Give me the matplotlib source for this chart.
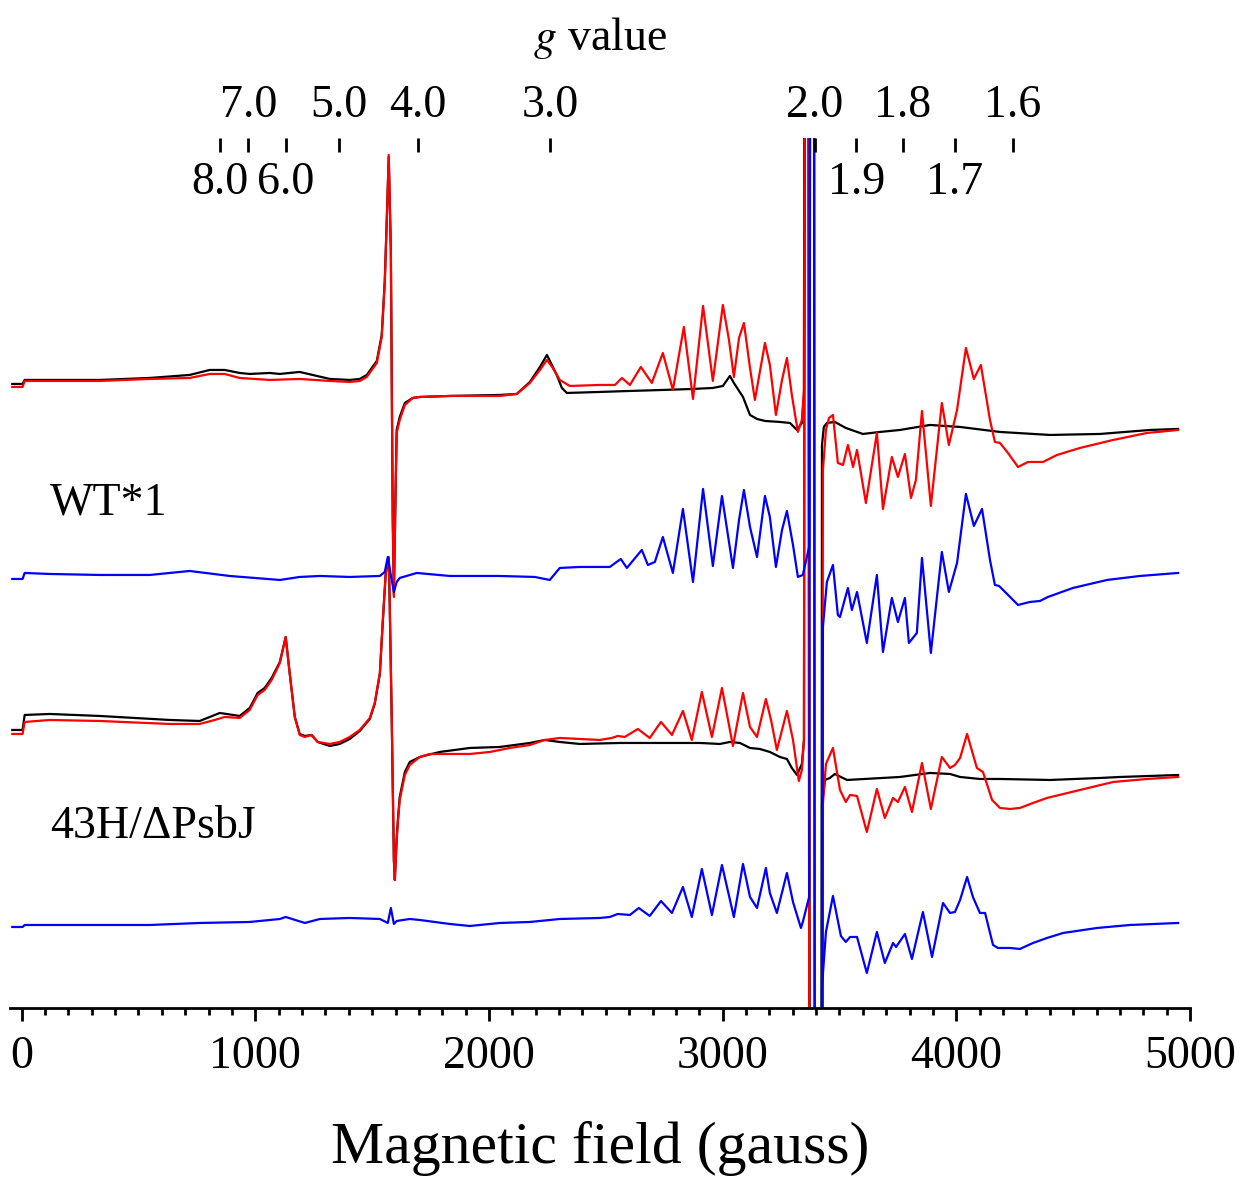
import numpy as np
import matplotlib.pyplot as plt
from matplotlib.ticker import MultipleLocator

plt.rcParams['font.family'] = ['Liberation Serif', 'DejaVu Serif']
plt.rcParams['mathtext.fontset'] = 'stix'

# microwave frequency, used for the g value scale on top: B(G) = 714.4773*f(GHz)/g
freq_ghz = 9.50
g_const = 714.4773 * freq_ghz
g_upper = [7.0, 5.0, 4.0, 3.0, 2.0, 1.8, 1.6]
g_lower = [8.0, 6.0, 1.9, 1.7]

sample_names = ["WT*1", "43H/\u0394PsbJ"]

# ---- WT*1 : black (dark) and red (illuminated) spectra, field in gauss, signal in a.u.
wt_black_field = [-40, 4, 13, 120, 334, 548, 719, 805, 869, 933, 976, 1062, 1104, 1190, 1319, 1404, 1447,
                  1477, 1520, 1541, 1554, 1563, 1571, 1580, 1584, 1588, 1593, 1601, 1605, 1618, 1640,
                  1674, 1704, 1832, 2046, 2119, 2175, 2218, 2248, 2290, 2312, 2333, 2474, 2603, 2744, 2873,
                  2958, 3001, 3031, 3048, 3087, 3117, 3147, 3181, 3245, 3288, 3318, 3339, 3348, 3361, 3378,
                  3416, 3425, 3433, 3446, 3480, 3527, 3600, 3673, 3759, 3887, 4016, 4187, 4401, 4615, 4829, 4949]
wt_black = [1, 1, 5, 5, 5, 7, 10, 15, 15, 12, 11, 12, 11, 13, 6, 5, 6,
            10, 24, 50, 104, 168, 228, 135, 2, -130, -210, -95, -45, -32, -18,
            -13, -12, -11, -10, -9, 3, 18, 30, 10, -3, -8, -7, -6, -5, -4,
            -3, -1, 9, 2, -12, -30, -34, -36, -37, -38, -45, -38, -10, 3000, -3000,
            -3000, -60, -42, -38, -37, -43, -49, -47, -45, -40, -42, -47, -50, -49, -45, -44]

wt_red_field = [-40, 4, 13, 120, 334, 548, 719, 805, 869, 933, 1062, 1190, 1319, 1404, 1447, 1477, 1520,
                1541, 1554, 1563, 1571, 1580, 1584, 1588, 1593, 1601, 1605, 1618, 1640, 1674, 1704,
                1832, 2046, 2119, 2175, 2218, 2248, 2273, 2303, 2346, 2474, 2539, 2569, 2603, 2650, 2697,
                2744, 2787, 2834, 2873, 2916, 2958, 3001, 3027, 3048, 3070, 3091, 3117, 3138, 3181, 3202,
                3228, 3254, 3275, 3296, 3322, 3339, 3348, 3361, 3378, 3416, 3429, 3442, 3455, 3472, 3493,
                3515, 3536, 3558, 3575, 3613, 3660, 3686, 3724, 3750, 3780, 3806, 3827, 3853, 3891, 3938,
                3968, 4003, 4041, 4075, 4105, 4144, 4165, 4187, 4221, 4264, 4307, 4371, 4431, 4529, 4671,
                4816, 4949]
wt_red = [-2, -2, 4, 4, 4, 6, 7, 11, 11, 7, 5, 6, 4, 3, 4, 8, 22,
          48, 102, 168, 230, 135, 2, -132, -212, -98, -48, -35, -20, -13, -12,
          -11, -11, -9, 2, 15, 25, 17, 5, -1, 0, 0, 7, 0, 18, 2,
          32, -5, 58, -14, 79, 4, 80, 45, 8, 47, 62, 17, -15, 42, 20,
          -30, 5, 27, -10, -47, -35, -5, 3000, -3000, -3000, -85, -45, -33, -30, -78,
          -80, -60, -82, -65, -118, -48, -124, -72, -92, -69, -113, -95, -26, -121, -18,
          -60, -25, 37, 6, 20, -35, -57, -58, -68, -82, -77, -77, -70, -63, -55,
          -48, -45]

wt_blue_field = [-40, 4, 13, 120, 334, 548, 719, 890, 1105, 1190, 1276, 1404, 1533, 1554, 1567, 1580, 1593,
                 1605, 1618, 1691, 1832, 2046, 2196, 2260, 2303, 2389, 2517, 2564, 2590, 2654, 2680, 2710,
                 2744, 2787, 2830, 2873, 2916, 2958, 2997, 3044, 3070, 3091, 3117, 3147, 3181, 3202, 3228,
                 3254, 3275, 3301, 3322, 3343, 3370, 3386, 3400, 3412, 3429, 3446, 3472, 3493, 3502, 3536,
                 3553, 3575, 3617, 3660, 3686, 3724, 3750, 3780, 3797, 3831, 3853, 3891, 3938, 3968, 4003,
                 4041, 4075, 4110, 4144, 4165, 4183, 4230, 4264, 4315, 4358, 4392, 4499, 4645, 4786, 4949]
wt_blue = [-2, -2, 4, 3, 2, 2, 6, 1, -3, 0, 1, 0, 1, 5, 20, 2, -15,
           -5, -1, 4, 1, 1, 0, -3, 9, 10, 10, 18, 9, 27, 12, 15,
           40, 4, 68, -5, 88, 11, 81, 9, 57, 87, 50, 20, 81, 60, 10,
           47, 66, 32, 0, 2, 30, 3000, -3000, -3000, -50, -5, 12, -38, -40, -11,
           -33, -15, -66, 2, -75, -21, -45, -21, -66, -56, 19, -76, 25, -15, 14,
           83, 51, 68, 17, -8, -9, -20, -28, -25, -24, -20, -11, -3, 1, 4]

# ---- 43H/dPsbJ
h43_black_field = [-40, 4, 13, 120, 334, 634, 762, 848, 933, 976, 1010, 1040, 1070, 1105, 1130, 1147, 1169,
                   1190, 1212, 1241, 1267, 1319, 1361, 1404, 1447, 1490, 1511, 1533, 1545, 1558, 1567, 1571,
                   1575, 1584, 1593, 1597, 1605, 1610, 1618, 1640, 1661, 1704, 1789, 1918, 2046, 2175, 2239,
                   2303, 2389, 2560, 2731, 2903, 2988, 3031, 3074, 3117, 3159, 3202, 3245, 3275, 3296, 3318,
                   3339, 3348, 3361, 3378, 3416, 3425, 3438, 3459, 3480, 3532, 3759, 3887, 3973, 4016, 4101,
                   4187, 4401, 4615, 4700, 4829, 4949]
h43_black = [4, 4, 19, 20, 18, 14, 13, 21, 18, 26, 41, 46, 56, 72, 97, 61, 17,
             0, -2, -1, -8, -12, -10, -5, 3, 15, 30, 60, 110, 160, 172, 175,
             132, 12, -126, -146, -104, -86, -63, -38, -28, -23, -18, -14, -13, -9, -6,
             -8, -10, -9, -9, -9, -10, -8, -9, -14, -15, -18, -23, -25, -34, -41,
             -30, -6, 3000, -3000, -3000, -70, -46, -44, -40, -46, -43, -39, -40, -43, -45,
             -45, -46, -44, -43, -42, -41]

h43_red_field = [-40, 4, 13, 120, 334, 634, 762, 826, 869, 933, 976, 1010, 1040, 1070, 1105, 1130, 1147,
                 1169, 1190, 1212, 1241, 1267, 1319, 1361, 1404, 1447, 1490, 1511, 1533, 1545, 1558, 1567,
                 1571, 1575, 1584, 1593, 1597, 1605, 1610, 1618, 1640, 1661, 1704, 1747, 1918, 2004, 2089,
                 2175, 2239, 2303, 2474, 2525, 2551, 2581, 2637, 2688, 2736, 2783, 2830, 2868, 2911, 2954,
                 2997, 3044, 3087, 3117, 3147, 3185, 3207, 3232, 3275, 3301, 3326, 3339, 3348, 3361, 3378,
                 3416, 3429, 3442, 3472, 3502, 3527, 3545, 3575, 3617, 3660, 3694, 3729, 3750, 3780, 3810,
                 3853, 3891, 3938, 3973, 3994, 4016, 4046, 4088, 4114, 4153, 4187, 4230, 4272, 4328, 4388,
                 4529, 4671, 4816, 4949]
h43_red = [0, 0, 12, 14, 13, 10, 10, 14, 17, 16, 24, 39, 44, 54, 71, 97, 61,
           17, -1, -3, -1, -8, -10, -8, -3, 4, 16, 31, 61, 111, 161, 174,
           177, 134, 14, -126, -146, -106, -89, -66, -41, -31, -23, -20, -20, -18, -14,
           -11, -6, -4, -6, -4, -2, -3, 5, -4, 12, -1, 23, -6, 42, -3,
           46, -12, 41, 7, -3, 35, 14, -16, 23, -6, -47, -36, -6, 3000, -3000,
           -3000, -70, -30, -14, -56, -68, -61, -62, -98, -55, -84, -64, -68, -53, -78,
           -29, -75, -23, -34, -31, -24, 0, -34, -38, -66, -74, -75, -74, -69, -64,
           -56, -48, -45, -43]

h43_blue_field = [-40, 4, 13, 334, 548, 762, 976, 1105, 1130, 1212, 1276, 1404, 1533, 1567, 1580, 1593, 1605,
                  1661, 1704, 1832, 1918, 2046, 2175, 2303, 2474, 2517, 2551, 2603, 2641, 2688, 2736, 2783,
                  2830, 2868, 2911, 2954, 2997, 3048, 3087, 3117, 3147, 3185, 3202, 3232, 3275, 3301, 3335,
                  3343, 3370, 3386, 3400, 3412, 3425, 3442, 3472, 3506, 3527, 3545, 3575, 3617, 3660, 3694,
                  3729, 3742, 3780, 3810, 3857, 3896, 3943, 3973, 3994, 4016, 4046, 4071, 4101, 4123, 4157,
                  4178, 4230, 4272, 4328, 4388, 4457, 4602, 4743, 4949]
h43_blue = [0, 0, 2, 2, 2, 4, 5, 8, 10, 4, 8, 9, 8, 4, 19, 3, 6,
            8, 7, 3, 1, 4, 5, 8, 9, 10, 13, 12, 19, 11, 26, 14,
            40, 10, 58, 12, 62, 10, 63, 30, 19, 59, 34, 14, 54, 25, -1,
            5, 30, 3000, -3000, -3000, -60, -5, 31, -9, -15, -10, -10, -46, -5, -36,
            -16, -20, -7, -32, 15, -30, 24, 14, 15, 27, 50, 30, 14, 14, -18,
            -21, -21, -22, -16, -11, -6, -1, 2, 4]

# vertical offsets of the stacked traces
wt_offset = 623
wt_blue_offset = 431
h43_offset = 274
h43_blue_offset = 81

fig = plt.figure(figsize=(12.44, 11.77), dpi=100)
ax = fig.add_axes([0.008, 0.1436, 0.9486, 0.7392])

lw = 1.6
style = dict(lw=lw, solid_joinstyle='round')
ax.plot(wt_black_field, np.array(wt_black) + wt_offset, color='black', **style)
ax.plot(wt_red_field, np.array(wt_red) + wt_offset, color='red', **style)
ax.plot(h43_black_field, np.array(h43_black) + h43_offset, color='black', **style)
ax.plot(h43_red_field, np.array(h43_red) + h43_offset, color='red', **style)
ax.plot(wt_blue_field, np.array(wt_blue) + wt_blue_offset, color='blue', **style)
ax.plot(h43_blue_field, np.array(h43_blue) + h43_blue_offset, color='blue', **style)

ax.text(120, 505, sample_names[0], fontsize=33, ha='left', va='center')
ax.text(120, 181, sample_names[1], fontsize=33, ha='left', va='center')

ax.set_xlim(-50, 5000)
ax.set_ylim(0, 870)
for s in ['left', 'right', 'top']:
    ax.spines[s].set_visible(False)
ax.spines['bottom'].set_linewidth(2)
ax.yaxis.set_visible(False)
ax.set_xticks(np.arange(0, 5001, 1000))
ax.xaxis.set_minor_locator(MultipleLocator(100))
ax.tick_params(axis='x', which='major', direction='out', length=9, width=2, labelsize=33, pad=11)
ax.tick_params(axis='x', which='minor', direction='out', length=5, width=2)
ax.set_xlabel("Magnetic field (gauss)", fontsize=43, labelpad=31)

# g value scale on top
ax2 = ax.twiny()
ax2.set_xlim(ax.get_xlim())
for s in ax2.spines.values():
    s.set_visible(False)
ax2.set_xticks([g_const / g for g in g_upper])
ax2.set_xticklabels([f"{g:.1f}" for g in g_upper])
ax2.set_xticks([g_const / g for g in g_lower], minor=True)
ax2.tick_params(axis='x', which='both', direction='in', length=10, width=2, labelsize=33, pad=8)
for g in g_lower:
    ax2.text(g_const / g, 0.948, f"{g:.1f}", transform=ax2.get_xaxis_transform(),
             fontsize=33, ha='center', va='center')
ax2.set_xlabel("$g$ value", fontsize=33, labelpad=25)

fig.savefig("out.png", dpi=100)
